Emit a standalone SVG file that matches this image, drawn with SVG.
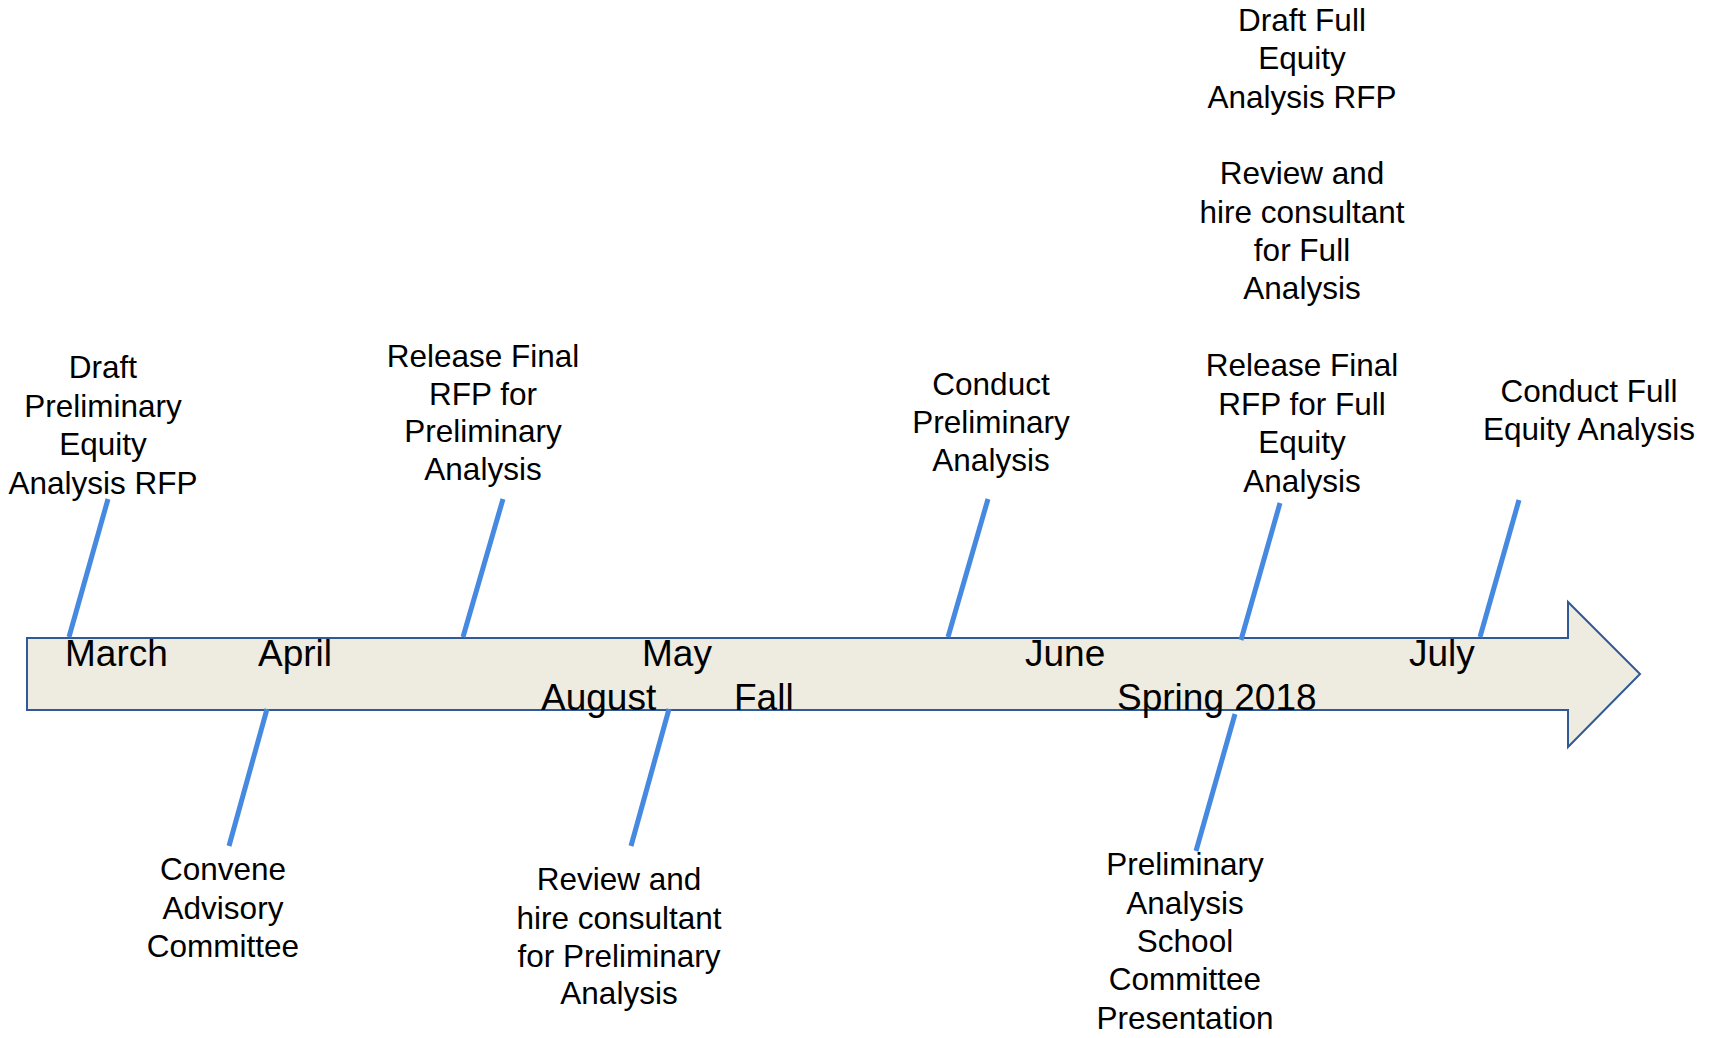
<svg xmlns="http://www.w3.org/2000/svg" width="1719" height="1038" viewBox="0 0 1719 1038">
<style>
.t{font-family:"Liberation Sans",Arial,sans-serif;font-size:31.5px;fill:#000;text-anchor:middle}
.m{font-family:"Liberation Sans",Arial,sans-serif;font-size:37px;fill:#000}
.tick{stroke:#4589E0;stroke-width:5;fill:none}
</style>
<rect width="1719" height="1038" fill="#fff"/>
<g id="timeline-arrow">
<path d="M27 638 H1568 V602 L1640 674 L1568 747 V710 H27 Z" fill="#EEEBE0" stroke="#2F5A96" stroke-width="2"/>
</g>
<g id="connectors">
<line class="tick" x1="108" y1="499" x2="69" y2="637"/>
<line class="tick" x1="503" y1="499" x2="463" y2="637"/>
<line class="tick" x1="988" y1="499" x2="948" y2="637"/>
<line class="tick" x1="1280" y1="503" x2="1241" y2="640"/>
<line class="tick" x1="1519" y1="500" x2="1480" y2="637"/>
<line class="tick" x1="267" y1="709" x2="229" y2="846"/>
<line class="tick" x1="669" y1="709" x2="631" y2="846"/>
<line class="tick" x1="1235" y1="714" x2="1196" y2="851"/>
</g>
<g id="months">
<text class="m" x="65" y="666">March</text>
<text class="m" x="258" y="666">April</text>
<text class="m" x="642" y="666">May</text>
<text class="m" x="1025" y="666">June</text>
<text class="m" x="1409" y="666">July</text>
<text class="m" x="541" y="710">August</text>
<text class="m" x="734" y="710">Fall</text>
<text class="m" x="1117" y="710">Spring 2018</text>
</g>
<g id="node-draft-prelim">
<text class="t" x="103" y="378">Draft</text>
<text class="t" x="103" y="416.5">Preliminary</text>
<text class="t" x="103" y="455">Equity</text>
<text class="t" x="103" y="493.5">Analysis RFP</text>
</g>
<g id="node-release-prelim">
<text class="t" x="483" y="366.5">Release Final</text>
<text class="t" x="483" y="404.5">RFP for</text>
<text class="t" x="483" y="442">Preliminary</text>
<text class="t" x="483" y="480">Analysis</text>
</g>
<g id="node-conduct-prelim">
<text class="t" x="991" y="395">Conduct</text>
<text class="t" x="991" y="433">Preliminary</text>
<text class="t" x="991" y="471">Analysis</text>
</g>
<g id="node-release-full">
<text class="t" x="1302" y="376">Release Final</text>
<text class="t" x="1302" y="414.5">RFP for Full</text>
<text class="t" x="1302" y="453">Equity</text>
<text class="t" x="1302" y="491.5">Analysis</text>
</g>
<g id="node-conduct-full">
<text class="t" x="1589" y="401.5">Conduct Full</text>
<text class="t" x="1589" y="439.5">Equity Analysis</text>
</g>
<g id="node-draft-full">
<text class="t" x="1302" y="30.5">Draft Full</text>
<text class="t" x="1302" y="69">Equity</text>
<text class="t" x="1302" y="107.5">Analysis RFP</text>
</g>
<g id="node-review-full">
<text class="t" x="1302" y="184">Review and</text>
<text class="t" x="1302" y="222.5">hire consultant</text>
<text class="t" x="1302" y="261">for Full</text>
<text class="t" x="1302" y="299">Analysis</text>
</g>
<g id="node-convene">
<text class="t" x="223" y="880">Convene</text>
<text class="t" x="223" y="918.5">Advisory</text>
<text class="t" x="223" y="957">Committee</text>
</g>
<g id="node-review-prelim">
<text class="t" x="619" y="890">Review and</text>
<text class="t" x="619" y="928.5">hire consultant</text>
<text class="t" x="619" y="967">for Preliminary</text>
<text class="t" x="619" y="1004">Analysis</text>
</g>
<g id="node-presentation">
<text class="t" x="1185" y="875">Preliminary</text>
<text class="t" x="1185" y="913.5">Analysis</text>
<text class="t" x="1185" y="952">School</text>
<text class="t" x="1185" y="990">Committee</text>
<text class="t" x="1185" y="1028.5">Presentation</text>
</g>
</svg>
